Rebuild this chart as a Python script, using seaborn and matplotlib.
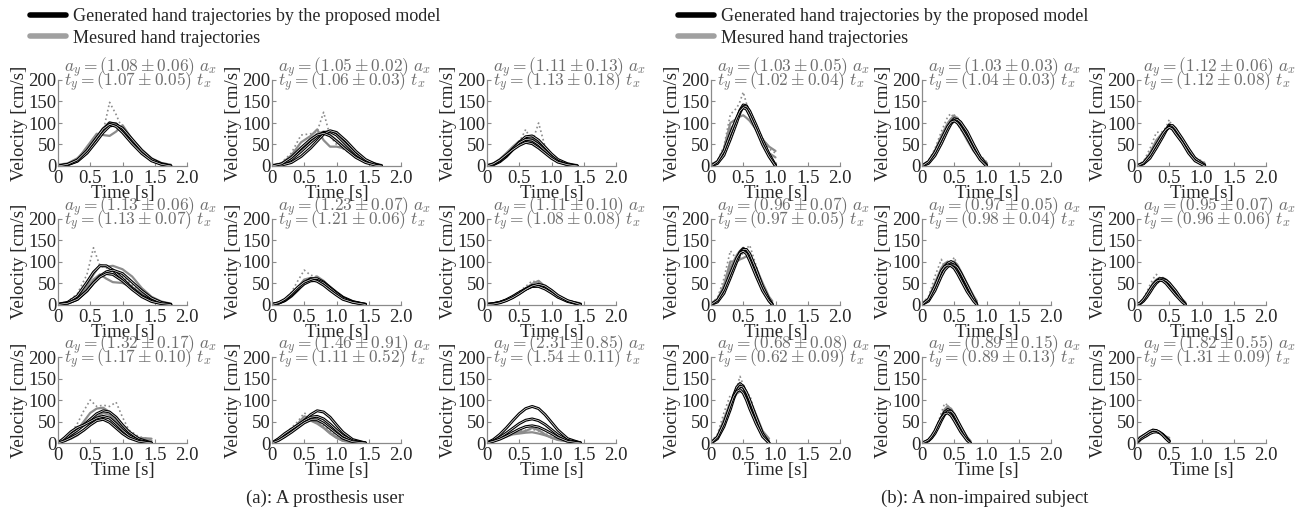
import matplotlib
matplotlib.use("Agg")
import matplotlib.pyplot as plt
from matplotlib.lines import Line2D
import seaborn as sns

sns.set_style("ticks")
plt.rcParams['font.family'] = ['Liberation Serif', 'DejaVu Serif']
plt.rcParams['mathtext.fontset'] = 'cm'

########################## data ##########################

# (a) prosthesis user
ay_a = [1.08, 1.05, 1.11, 1.13, 1.23, 1.11, 1.32, 1.46, 2.31]
ay_sd_a = [0.06, 0.02, 0.13, 0.06, 0.07, 0.10, 0.17, 0.91, 0.85]
ty_a = [1.07, 1.06, 1.13, 1.13, 1.21, 1.08, 1.17, 1.11, 1.54]
ty_sd_a = [0.05, 0.03, 0.18, 0.07, 0.06, 0.08, 0.10, 0.52, 0.11]

# (b) non-impaired subject
ay_b = [1.03, 1.03, 1.12, 0.96, 0.97, 0.95, 0.68, 0.89, 1.82]
ay_sd_b = [0.05, 0.03, 0.06, 0.07, 0.05, 0.07, 0.08, 0.15, 0.55]
ty_b = [1.02, 1.04, 1.12, 0.97, 0.98, 0.96, 0.62, 0.89, 1.31]
ty_sd_b = [0.04, 0.03, 0.08, 0.05, 0.04, 0.06, 0.09, 0.13, 0.09]

t_a1 = [0, 0.15, 0.3, 0.45, 0.6, 0.7, 0.8, 0.9, 1.0, 1.15, 1.3, 1.45, 1.6, 1.75]
gen_a1 = [[0, 3, 12, 32, 62, 84, 100, 98, 84, 58, 33, 15, 5, 0],
          [0, 3, 11, 30, 58, 78, 93, 96, 88, 62, 36, 16, 5, 0],
          [0, 4, 14, 36, 66, 86, 97, 92, 78, 52, 29, 12, 4, 0]]
mes_a1 = [[3, 5, 14, 38, 70, 80, 148, 120, 85, 60, 35, 18, 8, 2],
          [2, 5, 15, 45, 75, 72, 70, 80, 95, 62, 38, 18, 7, 2],
          [3, 6, 18, 40, 68, 88, 102, 95, 80, 55, 32, 16, 7, 3]]

t_a2 = [0, 0.15, 0.3, 0.45, 0.6, 0.7, 0.8, 0.9, 1.0, 1.15, 1.3, 1.45, 1.6, 1.7]
gen_a2 = [[0, 4, 15, 34, 55, 68, 78, 80, 72, 50, 28, 12, 4, 0],
          [0, 2, 8, 22, 42, 58, 74, 82, 78, 58, 34, 15, 4, 0],
          [0, 5, 20, 42, 62, 72, 76, 70, 58, 38, 20, 8, 2, 0]]
mes_a2 = [[2, 8, 30, 72, 75, 80, 125, 70, 50, 35, 25, 10, 4, 2],
          [2, 6, 25, 55, 70, 85, 60, 45, 45, 40, 30, 14, 6, 2],
          [2, 5, 18, 40, 62, 75, 80, 72, 60, 42, 25, 12, 5, 2]]

t_a3 = [0, 0.1, 0.2, 0.3, 0.4, 0.5, 0.6, 0.7, 0.8, 0.9, 1.0, 1.1, 1.25, 1.4]
gen_a3 = [[0, 3, 10, 22, 38, 55, 68, 70, 60, 44, 28, 15, 5, 0],
          [0, 4, 12, 25, 40, 54, 62, 60, 50, 36, 22, 11, 3, 0],
          [0, 5, 14, 26, 38, 48, 55, 52, 42, 30, 18, 9, 3, 0]]
mes_a3 = [[2, 5, 14, 28, 42, 55, 85, 55, 100, 45, 25, 12, 5, 2],
          [2, 6, 16, 30, 45, 58, 62, 58, 50, 38, 25, 13, 6, 2],
          [3, 5, 12, 24, 38, 50, 58, 65, 55, 40, 22, 10, 4, 2]]

t_a4 = [0, 0.15, 0.3, 0.45, 0.55, 0.65, 0.75, 0.85, 1.0, 1.15, 1.3, 1.45, 1.6, 1.75]
gen_a4 = [[0, 5, 20, 52, 75, 90, 90, 80, 60, 38, 20, 9, 3, 0],
          [0, 3, 12, 32, 50, 66, 76, 80, 72, 52, 32, 15, 5, 0],
          [0, 3, 12, 32, 50, 64, 72, 70, 55, 35, 18, 7, 2, 0]]
mes_a4 = [[2, 6, 25, 70, 132, 90, 85, 80, 65, 45, 25, 12, 5, 2],
          [2, 5, 18, 45, 70, 92, 88, 90, 82, 65, 38, 18, 7, 2],
          [3, 4, 14, 38, 58, 70, 60, 52, 50, 40, 25, 12, 5, 2]]

t_a5 = [0, 0.1, 0.2, 0.3, 0.4, 0.5, 0.6, 0.7, 0.8, 0.9, 1.0, 1.1, 1.25, 1.45]
gen_a5 = [[0, 3, 9, 20, 35, 50, 60, 60, 52, 40, 28, 17, 7, 0],
          [0, 3, 10, 22, 36, 48, 55, 56, 50, 38, 26, 15, 6, 0],
          [0, 4, 12, 25, 40, 52, 58, 54, 45, 33, 22, 12, 5, 0]]
mes_a5 = [[3, 5, 12, 28, 55, 80, 68, 65, 50, 38, 25, 14, 6, 2],
          [2, 4, 10, 22, 40, 58, 62, 58, 48, 35, 24, 13, 5, 2],
          [2, 3, 8, 18, 32, 48, 58, 65, 55, 40, 26, 14, 6, 2]]

t_a6 = [0, 0.1, 0.2, 0.3, 0.4, 0.5, 0.6, 0.7, 0.8, 0.9, 1.0, 1.1, 1.25, 1.45]
gen_a6 = [[0, 2, 5, 10, 17, 26, 36, 44, 45, 40, 30, 19, 8, 0],
          [0, 2, 5, 11, 19, 28, 36, 42, 42, 36, 27, 17, 7, 0],
          [0, 1, 4, 9, 16, 25, 35, 43, 47, 43, 33, 21, 9, 0]]
mes_a6 = [[2, 3, 6, 12, 20, 30, 42, 55, 50, 44, 32, 20, 9, 3],
          [2, 2, 5, 10, 18, 28, 38, 48, 55, 42, 30, 18, 8, 2],
          [2, 3, 6, 11, 18, 27, 35, 42, 44, 38, 28, 17, 8, 3]]

t_a7 = [0, 0.1, 0.2, 0.3, 0.4, 0.5, 0.6, 0.7, 0.8, 0.9, 1.0, 1.1, 1.25, 1.45]
gen_a7 = [[0, 8, 20, 30, 42, 55, 68, 75, 72, 60, 42, 26, 10, 0],
          [0, 12, 26, 36, 42, 50, 58, 62, 58, 45, 30, 17, 6, 0],
          [0, 5, 12, 20, 30, 42, 52, 55, 48, 35, 22, 12, 4, 0]]
mes_a7 = [[5, 10, 22, 45, 75, 100, 85, 88, 85, 95, 60, 30, 15, 8],
          [3, 6, 15, 30, 50, 70, 80, 82, 72, 55, 35, 20, 12, 10],
          [4, 5, 10, 18, 30, 45, 60, 70, 65, 50, 32, 18, 10, 5]]

t_a8 = [0, 0.1, 0.2, 0.3, 0.4, 0.5, 0.6, 0.7, 0.8, 0.9, 1.0, 1.1, 1.25, 1.45]
gen_a8 = [[0, 8, 18, 28, 38, 52, 66, 75, 72, 60, 42, 25, 8, 0],
          [0, 10, 22, 32, 42, 52, 60, 62, 56, 44, 30, 17, 5, 0],
          [0, 6, 15, 25, 36, 47, 54, 54, 46, 34, 22, 11, 3, 0]]
mes_a8 = [[3, 8, 20, 35, 50, 70, 60, 52, 40, 28, 15, 6, 2, 2],
          [2, 6, 15, 28, 45, 62, 58, 48, 36, 24, 13, 5, 2, 1],
          [3, 7, 18, 30, 42, 55, 52, 45, 35, 22, 12, 5, 2, 1]]

t_a9 = [0, 0.1, 0.2, 0.3, 0.4, 0.5, 0.6, 0.7, 0.8, 0.9, 1.0, 1.1, 1.25, 1.45]
gen_a9 = [[0, 8, 20, 35, 52, 68, 80, 85, 80, 66, 48, 30, 10, 0],
          [0, 5, 13, 23, 34, 45, 53, 56, 52, 43, 31, 19, 6, 0],
          [0, 4, 9, 16, 24, 32, 38, 40, 37, 30, 22, 13, 4, 0]]
mes_a9 = [[3, 8, 15, 22, 26, 28, 30, 32, 28, 22, 15, 10, 6, 3],
          [2, 5, 10, 15, 20, 22, 24, 25, 22, 18, 13, 8, 4, 2],
          [3, 6, 12, 18, 22, 25, 28, 35, 30, 20, 12, 7, 4, 2]]

t_b1 = [0, 0.1, 0.2, 0.3, 0.4, 0.45, 0.5, 0.55, 0.6, 0.7, 0.8, 0.9, 1.0]
gen_b1 = [[0, 8, 30, 70, 110, 130, 142, 140, 125, 90, 55, 25, 0],
          [0, 6, 25, 62, 102, 125, 138, 138, 128, 95, 60, 28, 2],
          [0, 10, 35, 75, 112, 128, 136, 132, 118, 85, 50, 22, 0]]
mes_b1 = [[5, 12, 45, 120, 135, 150, 172, 145, 120, 95, 65, 40, 30],
          [3, 10, 40, 100, 110, 115, 118, 112, 105, 85, 62, 45, 35],
          [4, 10, 35, 85, 105, 120, 140, 135, 115, 85, 55, 30, 20]]

t_b2 = [0, 0.1, 0.2, 0.3, 0.4, 0.45, 0.5, 0.55, 0.6, 0.7, 0.8, 0.9, 1.0]
gen_b2 = [[0, 8, 28, 58, 90, 102, 110, 108, 100, 75, 45, 18, 0],
          [0, 6, 24, 52, 84, 98, 106, 108, 102, 80, 50, 22, 2],
          [0, 10, 32, 62, 92, 102, 105, 100, 90, 66, 38, 15, 0]]
mes_b2 = [[3, 12, 40, 80, 115, 122, 110, 100, 85, 65, 45, 25, 10],
          [2, 10, 35, 70, 100, 110, 115, 112, 95, 70, 45, 22, 8],
          [3, 8, 30, 62, 95, 108, 118, 100, 88, 60, 35, 18, 6]]

t_b3 = [0, 0.1, 0.2, 0.3, 0.4, 0.45, 0.5, 0.55, 0.6, 0.7, 0.8, 0.9, 1.05]
gen_b3 = [[0, 6, 22, 45, 72, 85, 95, 92, 82, 60, 36, 15, 0],
          [0, 5, 18, 42, 68, 82, 92, 94, 86, 64, 40, 18, 2],
          [0, 7, 25, 50, 75, 85, 90, 86, 75, 55, 30, 12, 0]]
mes_b3 = [[3, 10, 40, 78, 80, 90, 108, 90, 80, 60, 40, 20, 8],
          [2, 8, 30, 60, 78, 85, 88, 95, 88, 62, 38, 18, 6],
          [3, 6, 25, 52, 72, 82, 98, 85, 75, 55, 32, 15, 5]]

t_b4 = [0, 0.1, 0.2, 0.3, 0.4, 0.45, 0.5, 0.55, 0.6, 0.7, 0.8, 0.9, 0.95]
gen_b4 = [[0, 8, 30, 68, 105, 122, 130, 126, 112, 75, 38, 10, 0],
          [0, 6, 26, 62, 100, 118, 128, 128, 118, 82, 42, 12, 0],
          [0, 10, 35, 72, 108, 120, 124, 118, 102, 66, 32, 8, 0]]
mes_b4 = [[4, 15, 60, 125, 105, 110, 120, 130, 138, 90, 45, 15, 5],
          [3, 12, 45, 100, 100, 105, 108, 112, 118, 85, 50, 18, 8],
          [3, 10, 38, 85, 115, 125, 132, 125, 108, 72, 38, 12, 5]]

t_b5 = [0, 0.1, 0.2, 0.3, 0.35, 0.4, 0.45, 0.5, 0.55, 0.6, 0.7, 0.8, 0.85]
gen_b5 = [[0, 10, 38, 75, 88, 96, 100, 96, 86, 72, 40, 12, 0],
          [0, 8, 32, 66, 80, 88, 92, 92, 86, 74, 45, 15, 0],
          [0, 12, 42, 78, 88, 92, 90, 84, 72, 58, 30, 8, 0]]
mes_b5 = [[3, 18, 65, 105, 85, 90, 95, 110, 90, 75, 45, 18, 6],
          [2, 14, 50, 85, 95, 100, 92, 85, 78, 65, 40, 15, 5],
          [3, 12, 45, 80, 88, 92, 98, 100, 92, 78, 48, 20, 8]]

t_b6 = [0, 0.05, 0.1, 0.15, 0.2, 0.25, 0.3, 0.35, 0.4, 0.45, 0.5, 0.6, 0.7, 0.75]
gen_b6 = [[0, 3, 10, 20, 32, 44, 54, 60, 60, 56, 48, 28, 8, 0],
          [0, 2, 8, 17, 28, 40, 50, 56, 58, 56, 50, 32, 10, 0],
          [0, 4, 12, 23, 35, 46, 54, 57, 55, 49, 40, 22, 6, 0]]
mes_b6 = [[2, 5, 14, 28, 45, 60, 70, 62, 58, 55, 45, 25, 10, 4],
          [2, 4, 10, 22, 36, 50, 58, 62, 60, 55, 48, 30, 12, 5],
          [2, 3, 9, 18, 30, 42, 52, 58, 62, 58, 50, 30, 12, 4]]

t_b7 = [0, 0.1, 0.2, 0.3, 0.35, 0.4, 0.45, 0.5, 0.55, 0.6, 0.7, 0.8, 0.9]
gen_b7 = [[0, 12, 42, 85, 110, 130, 138, 132, 115, 95, 55, 20, 0],
          [0, 10, 38, 78, 102, 122, 132, 130, 118, 100, 60, 22, 0],
          [0, 14, 46, 88, 108, 120, 124, 116, 100, 80, 45, 15, 0]]
mes_b7 = [[3, 20, 70, 112, 110, 130, 155, 135, 110, 112, 62, 25, 8],
          [2, 15, 55, 95, 105, 115, 120, 118, 110, 100, 65, 28, 10],
          [3, 14, 50, 90, 112, 128, 140, 128, 108, 88, 50, 20, 5]]

t_b8 = [0, 0.05, 0.1, 0.15, 0.2, 0.25, 0.3, 0.35, 0.4, 0.45, 0.5, 0.6, 0.7, 0.75]
gen_b8 = [[0, 2, 6, 14, 26, 42, 58, 72, 78, 74, 62, 32, 8, 0],
          [0, 2, 5, 12, 22, 36, 52, 66, 74, 74, 66, 38, 10, 0],
          [0, 3, 7, 16, 28, 44, 58, 68, 70, 64, 52, 26, 6, 0]]
mes_b8 = [[2, 3, 7, 15, 28, 48, 70, 92, 88, 78, 62, 32, 12, 4],
          [2, 3, 6, 13, 24, 40, 58, 74, 82, 80, 68, 38, 14, 5],
          [1, 2, 6, 14, 26, 42, 60, 78, 86, 76, 58, 28, 10, 4]]

t_b9 = [0, 0.05, 0.1, 0.15, 0.2, 0.25, 0.3, 0.35, 0.4, 0.45, 0.5]
gen_b9 = [[2, 10, 16, 20, 25, 28, 28, 25, 20, 12, 4],
          [0, 8, 13, 17, 22, 25, 26, 24, 19, 12, 5],
          [3, 12, 17, 22, 27, 30, 29, 25, 18, 10, 3]]
mes_b9 = [[8, 12, 16, 22, 28, 32, 30, 26, 20, 14, 10],
          [10, 14, 18, 22, 26, 28, 27, 24, 20, 15, 12],
          [6, 10, 14, 20, 25, 29, 28, 24, 18, 12, 8]]

legend_labels = ["Generated hand trajectories by the proposed model",
                 "Mesured hand trajectories"]
captions = ["(a): A prosthesis user", "(b): A non-impaired subject"]

panels_a = [(t_a1, gen_a1, mes_a1), (t_a2, gen_a2, mes_a2), (t_a3, gen_a3, mes_a3),
            (t_a4, gen_a4, mes_a4), (t_a5, gen_a5, mes_a5), (t_a6, gen_a6, mes_a6),
            (t_a7, gen_a7, mes_a7), (t_a8, gen_a8, mes_a8), (t_a9, gen_a9, mes_a9)]
panels_b = [(t_b1, gen_b1, mes_b1), (t_b2, gen_b2, mes_b2), (t_b3, gen_b3, mes_b3),
            (t_b4, gen_b4, mes_b4), (t_b5, gen_b5, mes_b5), (t_b6, gen_b6, mes_b6),
            (t_b7, gen_b7, mes_b7), (t_b8, gen_b8, mes_b8), (t_b9, gen_b9, mes_b9)]

########################## layout ##########################

W, H = 1301, 511
fig = plt.figure(figsize=(W / 100, H / 100), dpi=100)

FS = 13.5
ANN_FS = 12.5
AX_GRAY = '#8a8a8a'
TXT_GRAY = '#6e6e6e'
lefts_a = [58, 272, 487]
lefts_b = [711, 922, 1137]
bottoms = [166, 304.5, 443]
AW, AH = 129, 86


def draw_panel(ax, t, gen, mes, ay, ays, ty, tys):
    for k, v in enumerate(mes):
        sns.lineplot(x=t, y=v, ax=ax, color='#8c8c8c', lw=1.2 if k == 0 else 1.6,
                     ls=':' if k == 0 else '-', estimator=None, sort=False)
    for v in gen:
        sns.lineplot(x=t, y=v, ax=ax, color='black', lw=2.1, estimator=None, sort=False)
        sns.lineplot(x=t, y=v, ax=ax, color='white', lw=0.45, estimator=None, sort=False)
    ax.set_xlim(0, 2)
    ax.set_ylim(0, 200)
    ax.set_xticks([0, 0.5, 1.0, 1.5, 2.0])
    ax.set_xticklabels(['0', '0.5', '1.0', '1.5', '2.0'])
    ax.set_yticks([0, 50, 100, 150, 200])
    ax.tick_params(direction='in', length=3, width=0.8, color=AX_GRAY,
                   labelsize=FS, pad=1)
    ax.tick_params(axis='x', pad=3)
    for s in ['top', 'right']:
        ax.spines[s].set_visible(False)
    for s in ['left', 'bottom']:
        ax.spines[s].set_color(AX_GRAY)
        ax.spines[s].set_linewidth(0.9)
    ax.set_xlabel('Time [s]', fontsize=FS, labelpad=-1.5)
    ax.set_ylabel('Velocity [cm/s]', fontsize=FS, labelpad=0)
    ax.text(0.05, 1.14, r'$a_y = (%.2f \pm %.2f)\ a_x$' % (ay, ays),
            transform=ax.transAxes, fontsize=ANN_FS, color=TXT_GRAY, va='center', ha='left')
    ax.text(0.05, 0.975, r'$t_y = (%.2f \pm %.2f)\ t_x$' % (ty, tys),
            transform=ax.transAxes, fontsize=ANN_FS, color=TXT_GRAY, va='center', ha='left')


for lefts, panels, ay, ays, ty, tys in [
        (lefts_a, panels_a, ay_a, ay_sd_a, ty_a, ty_sd_a),
        (lefts_b, panels_b, ay_b, ay_sd_b, ty_b, ty_sd_b)]:
    for i in range(9):
        r, c = divmod(i, 3)
        ax = fig.add_axes([lefts[c] / W, 1 - bottoms[r] / H, AW / W, AH / H])
        t, gen, mes = panels[i]
        draw_panel(ax, t, gen, mes, ay[i], ays[i], ty[i], tys[i])

handles = [Line2D([], [], color='black', lw=4),
           Line2D([], [], color='#a0a0a0', lw=4)]
for x0 in [30, 678]:
    fig.legend(handles, legend_labels, loc='upper left',
               bbox_to_anchor=(x0 / W, 1 - 8 / H), frameon=False, fontsize=13,
               handlelength=2.0, handletextpad=0.4, labelspacing=0.25,
               borderpad=0, borderaxespad=0)

fig.text(325 / W, 1 - 498 / H, captions[0], ha='center', va='center', fontsize=FS)
fig.text(985 / W, 1 - 498 / H, captions[1], ha='center', va='center', fontsize=FS)

fig.savefig('out.png', dpi=100)
